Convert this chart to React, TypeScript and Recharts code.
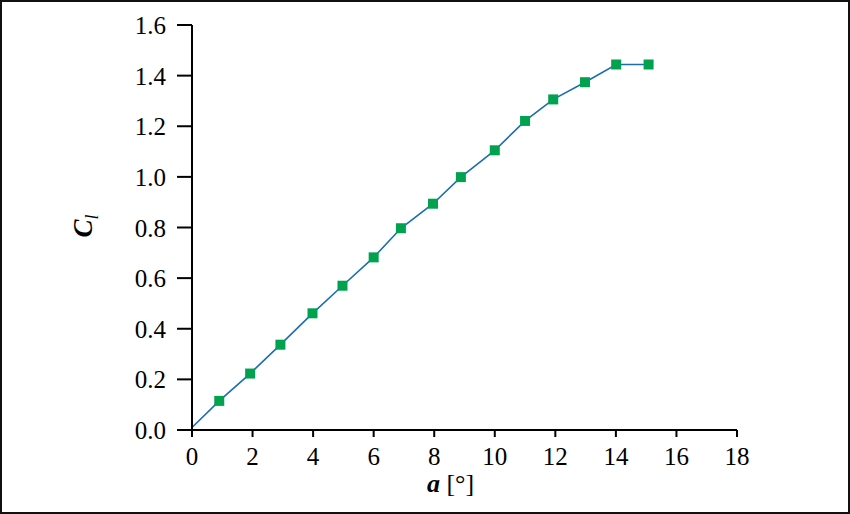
import { LineChart, Line, XAxis, YAxis } from "recharts";

// angle of attack (deg) and lift coefficient
const alpha = [0, 0.9, 1.92, 2.92, 3.98, 4.97, 6.0, 6.9, 7.96, 8.88, 10.0, 11.0, 11.93, 12.98, 14.01, 15.08];
const cl = [0.01, 0.115, 0.223, 0.337, 0.461, 0.57, 0.682, 0.797, 0.894, 0.999, 1.105, 1.221, 1.306, 1.374, 1.444, 1.444];

const xTicks = [0, 2, 4, 6, 8, 10, 12, 14, 16, 18];
const yTicks = [0, 0.2, 0.4, 0.6, 0.8, 1.0, 1.2, 1.4, 1.6];

const data = alpha.map((a, i) => ({ alpha: a, cl: cl[i] }));

const FONT = "Liberation Serif, Times New Roman, serif";

function SquareDot(props: any) {
    const { cx, cy, index } = props;
    // the first point (origin) has no marker
    if (index === 0 || cx == null || cy == null) return <g key={`d-${index}`} />;
    return <rect key={`d-${index}`} x={cx - 5} y={cy - 5} width={10} height={10} fill="#00a24f" />;
}

function XTick(props: any) {
    const { x, y, payload } = props;
    return (
        <text x={x} y={y + 18} textAnchor="middle" style={{ fontFamily: FONT, fontSize: 25 }} fill="#000">
            {payload.value}
        </text>
    );
}

function YTick(props: any) {
    const { x, y, payload } = props;
    return (
        <text x={x} y={y + 9} textAnchor="end" style={{ fontFamily: FONT, fontSize: 25 }} fill="#000">
            {Number(payload.value).toFixed(1)}
        </text>
    );
}

function XLabel(props: any) {
    const { viewBox } = props;
    const cx = viewBox.x + viewBox.width / 2 - 14;
    return (
        <text x={cx} y={492} textAnchor="middle" style={{ fontFamily: FONT, fontSize: 26 }} fill="#000">
            <tspan fontWeight="bold" fontStyle="italic">a</tspan>
            <tspan> [°]</tspan>
        </text>
    );
}

function YLabel() {
    return (
        <text x={92} y={226} transform="rotate(-90 92 226)" textAnchor="middle" style={{ fontFamily: FONT }} fill="#000">
            <tspan fontSize={27} fontWeight="bold" fontStyle="italic">C</tspan>
            <tspan fontSize={18} fontStyle="italic" dy={6}>l</tspan>
        </text>
    );
}

export default function App() {
    return (
        <div style={{ position: "fixed", top: 0, left: 0, width: 850, height: 514, background: "#fff" }}>
            <LineChart
                width={850}
                height={514}
                data={data}
                margin={{ top: 25, right: 113, left: 0, bottom: 0 }}
            >
                <XAxis
                    dataKey="alpha"
                    type="number"
                    domain={[0, 18]}
                    ticks={xTicks}
                    interval={0}
                    height={84}
                    tickSize={7}
                    tickMargin={10}
                    stroke="#000"
                    strokeWidth={2}
                    tick={<XTick />}
                    tickLine={{ stroke: "#000", strokeWidth: 2 }}
                    label={<XLabel />}
                />
                <YAxis
                    type="number"
                    domain={[0, 1.6]}
                    ticks={yTicks}
                    interval={0}
                    width={192}
                    tickSize={15}
                    tickMargin={11}
                    stroke="#000"
                    strokeWidth={2}
                    tick={<YTick />}
                    tickLine={{ stroke: "#000", strokeWidth: 2 }}
                    label={<YLabel />}
                />
                <Line
                    dataKey="cl"
                    type="linear"
                    stroke="#1b6db3"
                    strokeWidth={1.6}
                    dot={<SquareDot />}
                    activeDot={false}
                    isAnimationActive={false}
                />
            </LineChart>
            <div
                style={{
                    position: "absolute",
                    inset: 0,
                    border: "2px solid #111",
                    pointerEvents: "none",
                }}
            />
        </div>
    );
}
